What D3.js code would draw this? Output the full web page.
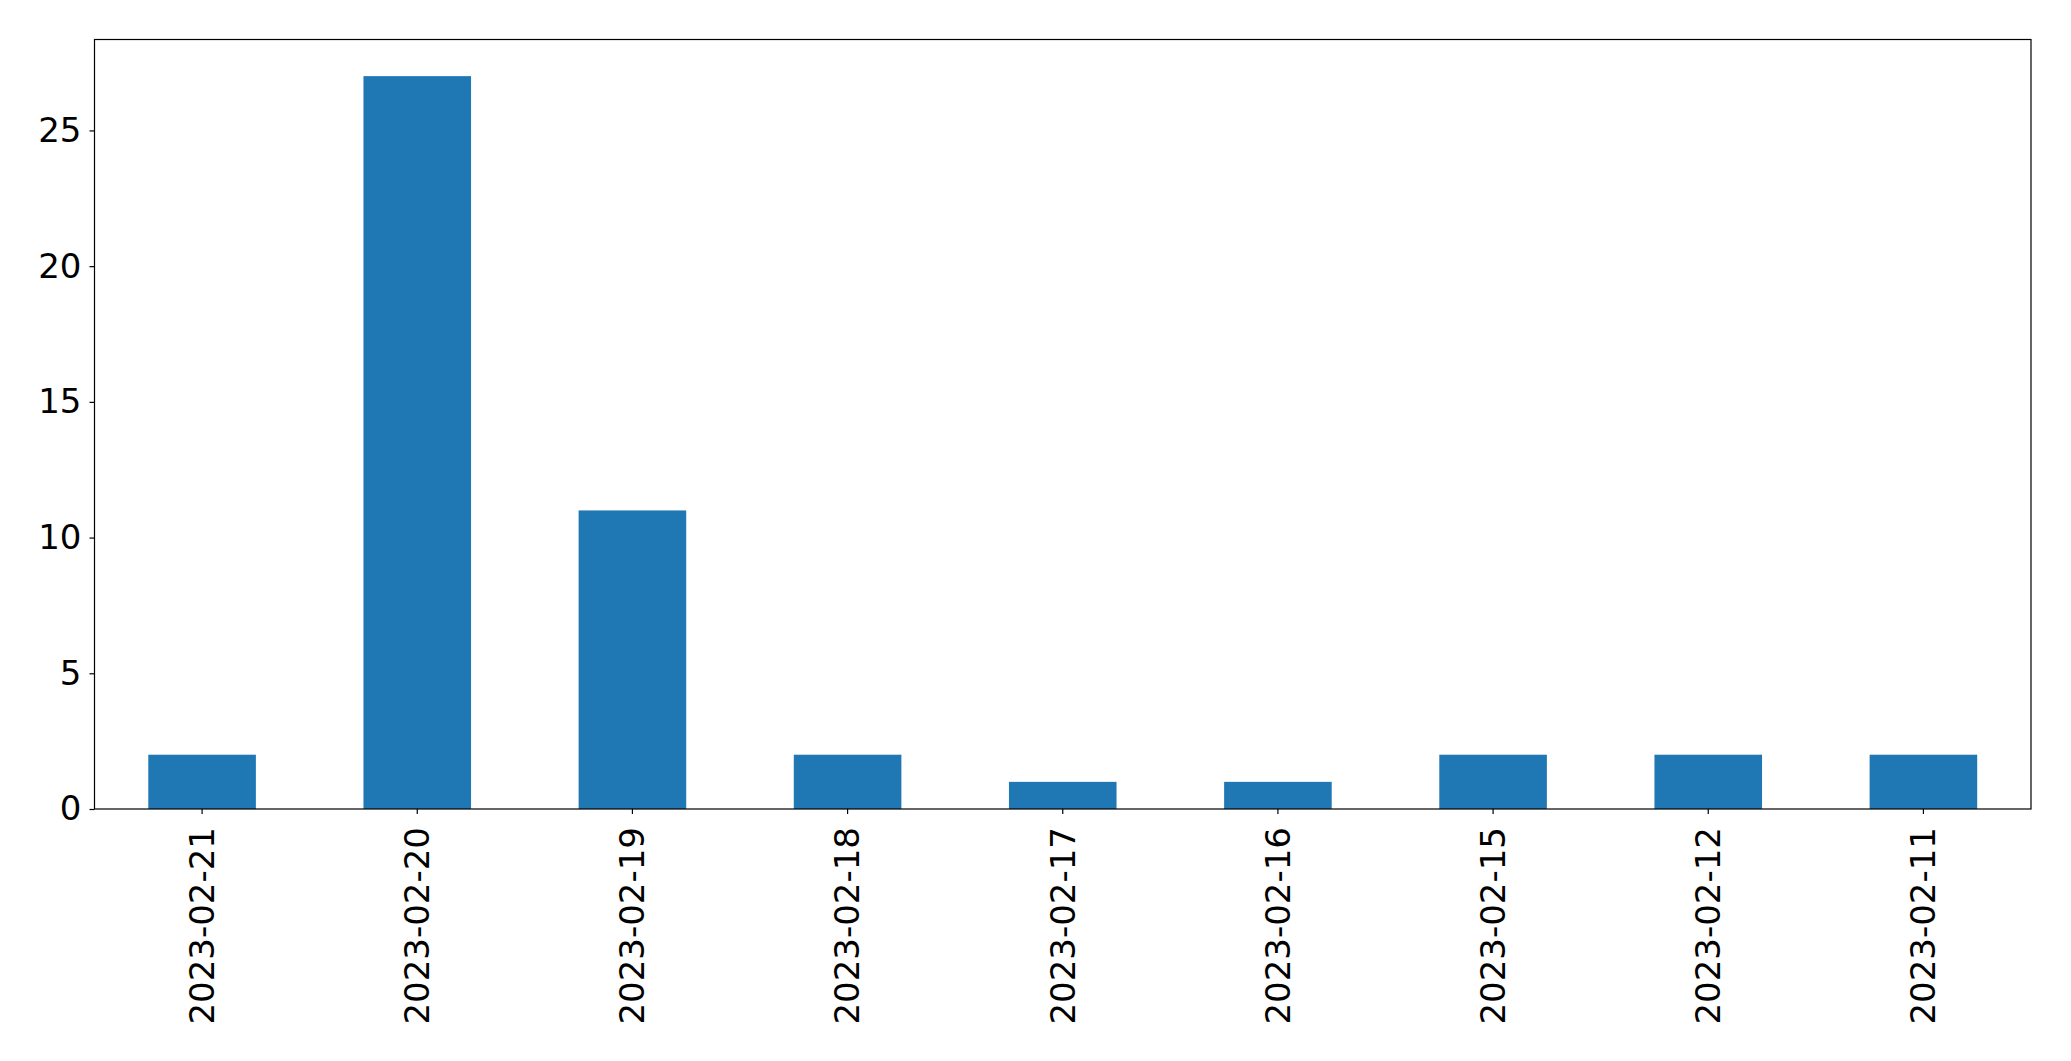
<!DOCTYPE html>
<html>
<head>
<meta charset="utf-8">
<script src="https://cdn.jsdelivr.net/npm/d3@7"></script>
<style>
  html, body { margin: 0; padding: 0; background: #fff; }
  svg { display: block; }
</style>
</head>
<body>
<script>
const categories = ["2023-02-21","2023-02-20","2023-02-19","2023-02-18","2023-02-17","2023-02-16","2023-02-15","2023-02-12","2023-02-11"];
const values = [2, 27, 11, 2, 1, 1, 2, 2, 2];
const yTicks = [0, 5, 10, 15, 20, 25];

const W = 2071, H = 1061;
const margin = {left: 94.5, right: 2071 - 2031, top: 39.5, bottom: 1061 - 809};
const fontSize = 34;
const FONT = "'DejaVu Sans', sans-serif";

const svg = d3.select("body").append("svg")
  .attr("width", W).attr("height", H)
  .style("font-family", FONT);

const x = d3.scaleBand()
  .domain(categories)
  .range([margin.left, W - margin.right])
  .paddingInner(0.5).paddingOuter(0.25);

const yMax = d3.max(values) * 1.05;
const y = d3.scaleLinear().domain([0, yMax]).range([H - margin.bottom, margin.top]);

svg.append("g").selectAll("rect")
  .data(values)
  .join("rect")
  .attr("x", (d, i) => x(categories[i]))
  .attr("width", x.bandwidth())
  .attr("y", d => y(d))
  .attr("height", d => y(0) - y(d))
  .attr("fill", "#1f77b4");

// y axis
const yAxis = svg.append("g")
  .attr("transform", `translate(${margin.left},0)`)
  .call(d3.axisLeft(y).tickValues(yTicks).tickSize(5).tickPadding(8).tickFormat(d3.format("d")));
yAxis.attr("font-family", null).attr("font-size", null);
yAxis.select(".domain").remove();
yAxis.selectAll("text").style("font-family", FONT).style("font-size", fontSize + "px").attr("fill", "#000");
yAxis.selectAll("line").attr("stroke", "#000").attr("stroke-width", 1.2);

// x axis
const xAxis = svg.append("g")
  .attr("transform", `translate(0,${H - margin.bottom})`)
  .call(d3.axisBottom(x).tickSize(5));
xAxis.attr("font-family", null).attr("font-size", null);
xAxis.select(".domain").remove();
xAxis.selectAll("line").attr("stroke", "#000").attr("stroke-width", 1.2);
xAxis.selectAll("text")
  .style("font-family", FONT)
  .style("font-size", fontSize + "px")
  .attr("fill", "#000")
  .attr("transform", "rotate(-90)")
  .attr("x", -18)
  .attr("y", 0)
  .attr("dy", "0.35em")
  .attr("text-anchor", "end");

// frame
svg.append("rect")
  .attr("x", margin.left).attr("y", margin.top)
  .attr("width", W - margin.right - margin.left)
  .attr("height", H - margin.bottom - margin.top)
  .attr("fill", "none").attr("stroke", "#000").attr("stroke-width", 1.2);
</script>
</body>
</html>
